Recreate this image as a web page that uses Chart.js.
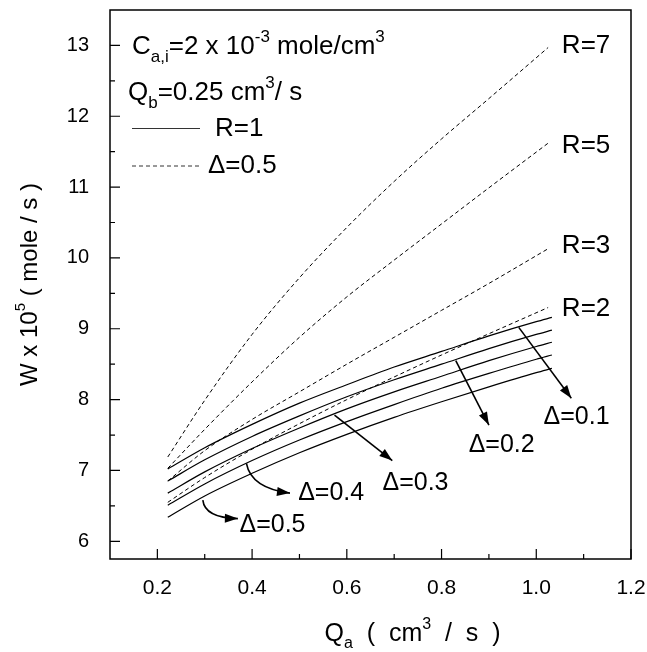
<!DOCTYPE html>
<html>
<head>
<meta charset="utf-8">
<script src="https://cdn.jsdelivr.net/npm/chart.js@4/dist/chart.umd.min.js"></script>
<style>
  html, body { margin: 0; padding: 0; background: #fff; }
  #wrap { width: 647px; height: 652px; }
</style>
</head>
<body>
<div id="wrap"><canvas id="c" width="647" height="652"></canvas></div>
<script>
// solid curves: R = 1, different delta
const qaSolid = [0.222, 0.3, 0.4, 0.5, 0.6, 0.7, 0.8, 0.9, 1.0, 1.033];
const wD01 = [7.02, 7.32, 7.65, 7.95, 8.21, 8.46, 8.68, 8.90, 9.10, 9.16];
const wD02 = [6.85, 7.15, 7.48, 7.77, 8.04, 8.28, 8.50, 8.72, 8.92, 8.98];
const wD03 = [6.68, 6.98, 7.31, 7.60, 7.87, 8.11, 8.33, 8.55, 8.75, 8.81];
const wD04 = [6.51, 6.81, 7.14, 7.43, 7.69, 7.93, 8.16, 8.37, 8.57, 8.63];
const wD05 = [6.34, 6.64, 6.96, 7.25, 7.51, 7.75, 7.97, 8.18, 8.38, 8.44];

// dashed curves: delta = 0.5, different R
const qaDash = [0.222, 0.3, 0.4, 0.5, 0.6, 0.7, 0.8, 0.9, 1.025];
const wR2 = [6.55, 6.90, 7.30, 7.66, 8.00, 8.32, 8.63, 8.93, 9.30];
const wR3 = [6.85, 7.28, 7.72, 8.11, 8.50, 8.88, 9.26, 9.64, 10.13];
const wR5 = [7.03, 7.58, 8.25, 8.88, 9.45, 9.97, 10.48, 10.99, 11.62];
const wR7 = [7.19, 7.99, 8.92, 9.72, 10.43, 11.08, 11.68, 12.25, 12.97];

const xTicks = [0.2, 0.4, 0.6, 0.8, 1.0, 1.2];
const xMinor = [0.3, 0.5, 0.7, 0.9, 1.1];
const yTicks = [6, 7, 8, 9, 10, 11, 12, 13];
const yMinor = [6.5, 7.5, 8.5, 9.5, 10.5, 11.5, 12.5];

const FONT = '"Liberation Sans", Arial, sans-serif';

function pts(xs, ys) {
  return xs.map((x, i) => ({ x: x, y: ys[i] }));
}

function solid(label, ys) {
  return { label, data: pts(qaSolid, ys), borderColor: '#000', borderWidth: 1.2,
    pointRadius: 0, cubicInterpolationMode: 'monotone', fill: false };
}
function dashed(label, ys) {
  return { label, data: pts(qaDash, ys), borderColor: '#000', borderWidth: 1,
    borderDash: [4, 3], pointRadius: 0, cubicInterpolationMode: 'monotone', fill: false };
}

// text with sub/superscripts: parts = [[text, 'n'|'sub'|'sup'], ...]
function richWidth(ctx, parts, size) {
  let w = 0;
  parts.forEach(([t, m]) => {
    ctx.font = (m === 'n' ? size : Math.round(size * 0.64)) + 'px ' + FONT;
    w += ctx.measureText(t).width;
  });
  return w;
}
function drawRich(ctx, parts, x, y, size, align) {
  let cx = x;
  if (align === 'center') cx = x - richWidth(ctx, parts, size) / 2;
  ctx.textBaseline = 'middle';
  ctx.textAlign = 'left';
  parts.forEach(([t, m]) => {
    let dy = 0;
    if (m === 'n') ctx.font = size + 'px ' + FONT;
    else {
      ctx.font = Math.round(size * 0.64) + 'px ' + FONT;
      dy = m === 'sup' ? -size * 0.38 : size * 0.38;
    }
    ctx.fillText(t, cx, y + dy);
    cx += ctx.measureText(t).width;
  });
}

function arrowHead(ctx, x0, y0, x1, y1) {
  const a = Math.atan2(y1 - y0, x1 - x0);
  const L = 13, W = 4.5;
  ctx.beginPath();
  ctx.moveTo(x1, y1);
  ctx.lineTo(x1 - L * Math.cos(a) + W * Math.sin(a), y1 - L * Math.sin(a) - W * Math.cos(a));
  ctx.lineTo(x1 - L * Math.cos(a) - W * Math.sin(a), y1 - L * Math.sin(a) + W * Math.cos(a));
  ctx.closePath();
  ctx.fill();
}

const decor = {
  id: 'decor',
  afterDraw(chart) {
    const ctx = chart.ctx;
    const a = chart.chartArea;
    const xs = chart.scales.x, ys = chart.scales.y;
    const X = v => xs.getPixelForValue(v), Y = v => ys.getPixelForValue(v);
    ctx.save();
    ctx.strokeStyle = '#000';
    ctx.fillStyle = '#000';
    // frame
    ctx.lineWidth = 1.5;
    ctx.strokeRect(a.left, a.top, a.right - a.left, a.bottom - a.top);
    // inward ticks
    ctx.lineWidth = 1.2;
    ctx.beginPath();
    xTicks.forEach(v => { ctx.moveTo(X(v), a.bottom); ctx.lineTo(X(v), a.bottom - 10); });
    xMinor.forEach(v => { ctx.moveTo(X(v), a.bottom); ctx.lineTo(X(v), a.bottom - 5); });
    yTicks.forEach(v => { ctx.moveTo(a.left, Y(v)); ctx.lineTo(a.left + 10, Y(v)); });
    yMinor.forEach(v => { ctx.moveTo(a.left, Y(v)); ctx.lineTo(a.left + 5, Y(v)); });
    ctx.stroke();

    // axis titles
    drawRich(ctx, [['Q', 'n'], ['a', 'sub'], ['  (  cm', 'n'], ['3', 'sup'], ['  /  s  )', 'n']],
      (a.left + a.right) / 2 + 42, 634, 25, 'center');
    ctx.save();
    ctx.translate(30, (a.top + a.bottom) / 2);
    ctx.rotate(-Math.PI / 2);
    drawRich(ctx, [['W x 10', 'n'], ['5', 'sup'], [' ( mole / s )', 'n']], 0, 0, 24, 'center');
    ctx.restore();

    // legend block
    drawRich(ctx, [['C', 'n'], ['a,i', 'sub'], ['=2 x 10', 'n'], ['-3', 'sup'], [' mole/cm', 'n'], ['3', 'sup']],
      a.left + 22, 47, 26, 'left');
    drawRich(ctx, [['Q', 'n'], ['b', 'sub'], ['=0.25 cm', 'n'], ['3', 'sup'], ['/ s', 'n']],
      a.left + 18, 93, 26, 'left');
    ctx.strokeStyle = '#333';
    ctx.lineWidth = 1.2;
    ctx.beginPath();
    ctx.moveTo(a.left + 22, 128.5); ctx.lineTo(a.left + 90, 128.5);
    ctx.stroke();
    ctx.lineWidth = 1;
    ctx.setLineDash([4, 3]);
    ctx.beginPath();
    ctx.moveTo(a.left + 22, 166); ctx.lineTo(a.left + 90, 166);
    ctx.stroke();
    ctx.setLineDash([]);
    ctx.strokeStyle = '#000';
    drawRich(ctx, [['R=1', 'n']], a.left + 105, 129, 26, 'left');
    drawRich(ctx, [['\u0394=0.5', 'n']], a.left + 98, 166, 26, 'left');

    // R labels at curve ends
    [['R=7', 13.0], ['R=5', 11.58], ['R=3', 10.17], ['R=2', 9.28]].forEach(([t, v]) => {
      drawRich(ctx, [[t, 'n']], X(1.054), Y(v), 26, 'left');
    });

    // straight arrows
    ctx.lineWidth = 1.6;
    [[0.963, 9.02, 1.074, 8.02], [0.83, 8.55, 0.90, 7.64], [0.574, 7.78, 0.696, 7.14]].forEach(([x0, y0, x1, y1]) => {
      ctx.beginPath();
      ctx.moveTo(X(x0), Y(y0)); ctx.lineTo(X(x1), Y(y1));
      ctx.stroke();
      arrowHead(ctx, X(x0), Y(y0), X(x1), Y(y1));
    });
    // curved arrows
    [[0.388, 7.1, 0.398, 6.75, 0.48, 6.68], [0.296, 6.58, 0.30, 6.33, 0.37, 6.32]].forEach(([x0, y0, cx, cy, x1, y1]) => {
      ctx.beginPath();
      ctx.moveTo(X(x0), Y(y0));
      ctx.quadraticCurveTo(X(cx), Y(cy), X(x1), Y(y1));
      ctx.stroke();
      arrowHead(ctx, X(cx), Y(cy), X(x1), Y(y1));
    });
    // delta labels
    [['\u0394=0.1', 1.085, 7.75], ['\u0394=0.2', 0.927, 7.36], ['\u0394=0.3', 0.745, 6.82],
     ['\u0394=0.4', 0.567, 6.68], ['\u0394=0.5', 0.443, 6.23]].forEach(([t, x, y]) => {
      drawRich(ctx, [[t, 'n']], X(x), Y(y), 25, 'center');
    });
    ctx.restore();
  }
};

new Chart(document.getElementById('c'), {
  type: 'line',
  data: {
    datasets: [
      solid('D0.1', wD01), solid('D0.2', wD02), solid('D0.3', wD03), solid('D0.4', wD04), solid('D0.5', wD05),
      dashed('R2', wR2), dashed('R3', wR3), dashed('R5', wR5), dashed('R7', wR7)
    ]
  },
  options: {
    responsive: false,
    animation: false,
    devicePixelRatio: 1,
    layout: { padding: { left: 0, right: 16, top: 10, bottom: 0 } },
    plugins: { legend: { display: false }, tooltip: { enabled: false } },
    scales: {
      x: {
        type: 'linear', min: 0.1, max: 1.2,
        grid: { display: false }, border: { display: false },
        afterBuildTicks: s => { s.ticks = xTicks.map(v => ({ value: v })); },
        afterFit: s => { s.height = 93; s.paddingLeft = 0; s.paddingRight = 0; },
        ticks: { padding: 9, color: '#000', font: { family: FONT, size: 21 }, maxRotation: 0,
          callback: v => v.toFixed(1) }
      },
      y: {
        type: 'linear', min: 5.75, max: 13.5,
        grid: { display: false }, border: { display: false },
        afterBuildTicks: s => { s.ticks = yTicks.map(v => ({ value: v })); },
        afterFit: s => { s.width = 110; s.paddingTop = 0; s.paddingBottom = 0; },
        ticks: { padding: 13, color: '#000', font: { family: FONT, size: 20 },
          callback: v => String(v) }
      }
    }
  },
  plugins: [decor]
});
</script>
</body>
</html>
